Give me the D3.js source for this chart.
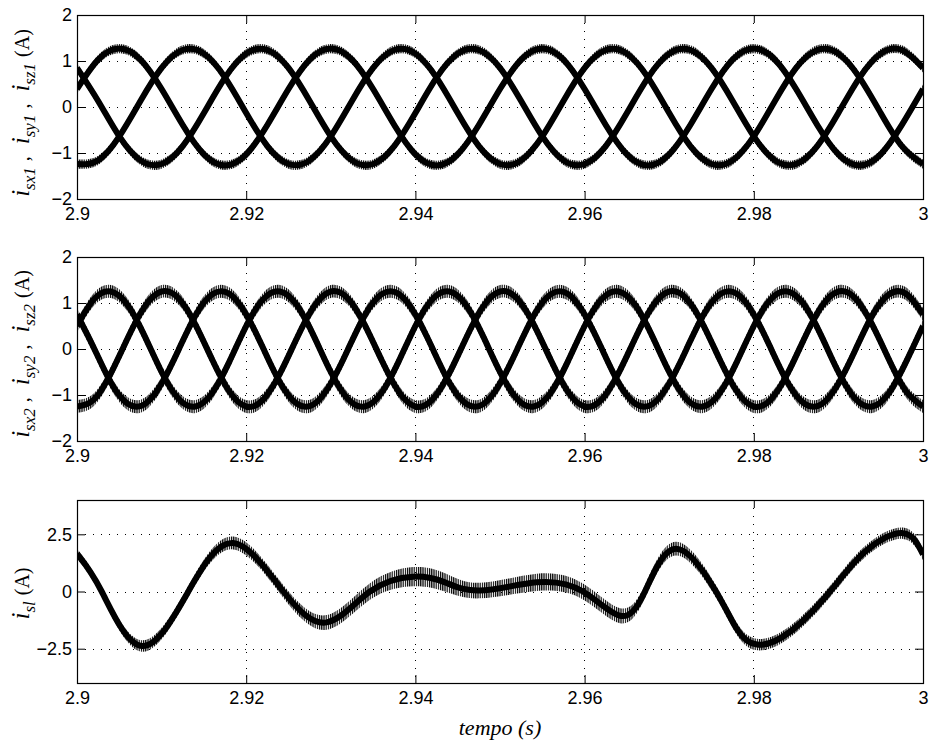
<!DOCTYPE html>
<html>
<head>
<meta charset="utf-8">
<script src="https://cdn.jsdelivr.net/npm/d3@7"></script>
<style>
  body { margin: 0; background: #fff; }
  svg { display: block; }
  .label { font-family: 'Liberation Serif', 'Times New Roman', serif; }
</style>
</head>
<body>
<script>
// time axis and ticks
var t0 = 2.9
var dt1 = 0.0025 // sample step of the first set of currents
var dt2 = 0.002 // sample step of the second set
var xTicks = [2.9, 2.92, 2.94, 2.96, 2.98, 3]
var yTicks12 = [-2, -1, 0, 1, 2]
var yTicks3 = [-2.5, 0, 2.5]

// set 1 (A), one sample every dt1
var isx1 = [
  0.39, 1.03, 1.27, 1.03, 0.39, -0.39, -1.03, -1.27, -1.03, -0.39,
  0.39, 1.03, 1.27, 1.03, 0.39, -0.39, -1.03, -1.27, -1.03, -0.39,
  0.39, 1.03, 1.27, 1.03, 0.39, -0.39, -1.03, -1.27, -1.03, -0.39,
  0.39, 1.03, 1.27, 1.03, 0.39, -0.39, -1.03, -1.27, -1.03, -0.39,
  0.39]
var isy1 = [
  -1.24, -1.16, -0.64, 0.13, 0.85, 1.24, 1.16, 0.64, -0.13, -0.85,
  -1.24, -1.16, -0.64, 0.13, 0.85, 1.24, 1.16, 0.64, -0.13, -0.85,
  -1.24, -1.16, -0.64, 0.13, 0.85, 1.24, 1.16, 0.64, -0.13, -0.85,
  -1.24, -1.16, -0.64, 0.13, 0.85, 1.24, 1.16, 0.64, -0.13, -0.85,
  -1.24]
var isz1 = [
  0.85, 0.13, -0.64, -1.16, -1.24, -0.85, -0.13, 0.64, 1.16, 1.24,
  0.85, 0.13, -0.64, -1.16, -1.24, -0.85, -0.13, 0.64, 1.16, 1.24,
  0.85, 0.13, -0.64, -1.16, -1.24, -0.85, -0.13, 0.64, 1.16, 1.24,
  0.85, 0.13, -0.64, -1.16, -1.24, -0.85, -0.13, 0.64, 1.16, 1.24,
  0.85]

// set 2 (A), one sample every dt2
var isx2 = [
  0.50, 1.08, 1.25, 0.95, 0.28, -0.50, -1.08, -1.25, -0.95, -0.28,
  0.50, 1.08, 1.25, 0.95, 0.28, -0.50, -1.08, -1.25, -0.95, -0.28,
  0.50, 1.08, 1.25, 0.95, 0.28, -0.50, -1.08, -1.25, -0.95, -0.28,
  0.50, 1.08, 1.25, 0.95, 0.28, -0.50, -1.08, -1.25, -0.95, -0.28,
  0.50, 1.08, 1.25, 0.95, 0.28, -0.50, -1.08, -1.25, -0.95, -0.28,
  0.50]
var isy2 = [
  -1.25, -1.10, -0.53, 0.24, 0.92, 1.25, 1.10, 0.53, -0.24, -0.92,
  -1.25, -1.10, -0.53, 0.24, 0.92, 1.25, 1.10, 0.53, -0.24, -0.92,
  -1.25, -1.10, -0.53, 0.24, 0.92, 1.25, 1.10, 0.53, -0.24, -0.92,
  -1.25, -1.10, -0.53, 0.24, 0.92, 1.25, 1.10, 0.53, -0.24, -0.92,
  -1.25, -1.10, -0.53, 0.24, 0.92, 1.25, 1.10, 0.53, -0.24, -0.92,
  -1.25]
var isz2 = [
  0.75, 0.02, -0.73, -1.19, -1.20, -0.75, -0.02, 0.73, 1.19, 1.20,
  0.75, 0.02, -0.73, -1.19, -1.20, -0.75, -0.02, 0.73, 1.19, 1.20,
  0.75, 0.02, -0.73, -1.19, -1.20, -0.75, -0.02, 0.73, 1.19, 1.20,
  0.75, 0.02, -0.73, -1.19, -1.20, -0.75, -0.02, 0.73, 1.19, 1.20,
  0.75, 0.02, -0.73, -1.19, -1.20, -0.75, -0.02, 0.73, 1.19, 1.20,
  0.75]

// switching ripple half band (A)
var ripple1 = 0.1
var ripple2 = 0.14

// i_sl, read at its peaks, zero crossings and a few slopes
var tsl = [2.9, 2.90292, 2.90765, 2.91316, 2.91848, 2.92439, 2.92951, 2.93463, 2.93976, 2.9435,
  2.94764, 2.95434, 2.95981, 2.96418, 2.96714, 2.9708, 2.97553, 2.978, 2.98038, 2.98428,
  2.98901, 2.99314, 2.99764, 3]
var isl = [1.65, 0, -2.38, 0, 2.12, 0, -1.35, 0, 0.65, 0.40,
  0.04, 0.40, 0, -1.06, 0, 1.87, 0, -1.64, -2.32, -1.76,
  0, 1.74, 2.55, 1.62]
var rsl = [0.22, 0.22, 0.25, 0.25, 0.28, 0.28, 0.32, 0.36, 0.42, 0.40,
  0.34, 0.38, 0.35, 0.33, 0.30, 0.30, 0.27, 0.26, 0.25, 0.25,
  0.25, 0.25, 0.25, 0.25]

function sampled (vals, dt, r) {
  return vals.map(function (v, i) { return { t: t0 + i * dt, v: v, r: r } })
}

var panels = [
  {
    top: 15, bottom: 199, domain: [-2, 2], ticks: yTicks12, subs: ['sx1', 'sy1', 'sz1'], shift: 6,
    series: [sampled(isx1, dt1, ripple1), sampled(isy1, dt1, ripple1), sampled(isz1, dt1, ripple1)]
  },
  {
    top: 257, bottom: 441, domain: [-2, 2], ticks: yTicks12, subs: ['sx2', 'sy2', 'sz2'], shift: 5,
    series: [sampled(isx2, dt2, ripple2), sampled(isy2, dt2, ripple2), sampled(isz2, dt2, ripple2)]
  },
  {
    top: 500, bottom: 683, domain: [-4, 4], ticks: yTicks3, subs: ['sl'], shift: 2,
    series: [tsl.map(function (t, i) { return { t: t, v: isl[i], r: rsl[i] } })]
  }
]

var svg = d3.select('body').append('svg')
  .attr('width', 930)
  .attr('height', 749)

var x = d3.scaleLinear().domain([2.9, 3]).range([77, 923])

function fmt (d) { return d < 0 ? '\u2212' + Math.abs(d) : String(d) }

var defs = svg.append('defs')
defs.append('pattern')
  .attr('id', 'ripple')
  .attr('patternUnits', 'userSpaceOnUse')
  .attr('width', 2.2)
  .attr('height', 10)
  .append('rect')
  .attr('width', 1.2)
  .attr('height', 10)
  .attr('fill', '#000')

panels.forEach(function (p, k) {
  var y = d3.scaleLinear().domain(p.domain).range([p.bottom, p.top])
  var g = svg.append('g')

  defs.append('clipPath').attr('id', 'clip' + k)
    .append('rect')
    .attr('x', 77).attr('y', p.top)
    .attr('width', 846).attr('height', p.bottom - p.top)

  // dotted grid
  var grid = g.append('g')
    .attr('stroke', '#000')
    .attr('stroke-width', 1)
    .attr('stroke-dasharray', '1,7')
    .attr('shape-rendering', 'crispEdges')
  grid.selectAll('.gx').data(xTicks).join('line')
    .attr('x1', function (d) { return x(d) }).attr('x2', function (d) { return x(d) })
    .attr('y1', p.top).attr('y2', p.bottom)
  grid.selectAll('.gy').data(p.ticks).join('line')
    .attr('y1', function (d) { return Math.round(y(d)) + 0.5 }).attr('y2', function (d) { return Math.round(y(d)) + 0.5 })
    .attr('x1', 77).attr('x2', 923)

  var line = d3.line()
    .x(function (d) { return x(d.t) })
    .y(function (d) { return y(d.v) })
    .curve(d3.curveNatural)
  var band = d3.area()
    .x(function (d) { return x(d.t) })
    .y0(function (d) { return y(d.v - d.r) })
    .y1(function (d) { return y(d.v + d.r) })
    .curve(d3.curveNatural)

  var plot = g.append('g').attr('clip-path', 'url(#clip' + k + ')')
  plot.selectAll('.band').data(p.series).join('path')
    .attr('d', band)
    .attr('fill', 'url(#ripple)')
  plot.selectAll('.core').data(p.series).join('path')
    .attr('d', line)
    .attr('fill', 'none')
    .attr('stroke', '#000')
    .attr('stroke-width', 6)
    .attr('stroke-linejoin', 'round')

  // axes, ticks pointing inward on all four sides
  var axes = [
    g.append('g').attr('transform', 'translate(0,' + p.bottom + ')')
      .call(d3.axisBottom(x).tickValues(xTicks).tickSize(-8).tickPadding(8).tickFormat(fmt)),
    g.append('g').attr('transform', 'translate(0,' + p.top + ')')
      .call(d3.axisTop(x).tickValues(xTicks).tickSize(-8).tickFormat('')),
    g.append('g').attr('transform', 'translate(77,0)')
      .call(d3.axisLeft(y).tickValues(p.ticks).tickSize(-8).tickPadding(5).tickFormat(fmt)),
    g.append('g').attr('transform', 'translate(923,0)')
      .call(d3.axisRight(y).tickValues(p.ticks).tickSize(-8).tickFormat(''))
  ]
  axes.forEach(function (a) {
    a.attr('font-family', "'Liberation Sans', Arial, sans-serif").attr('font-size', 18)
    a.select('.domain').remove()
  })

  g.append('rect')
    .attr('x', 77.5).attr('y', p.top + 0.5)
    .attr('width', 846).attr('height', p.bottom - p.top)
    .attr('fill', 'none')
    .attr('stroke', '#000')
    .attr('stroke-width', 1.2)

  // y label, i with subscripts
  var cy = (p.top + p.bottom) / 2 + p.shift
  var txt = svg.append('text')
    .attr('class', 'label')
    .attr('transform', 'translate(29,' + cy + ') rotate(-90)')
    .attr('text-anchor', 'middle')
  p.subs.forEach(function (s, i) {
    txt.append('tspan').attr('font-size', 25).attr('font-style', 'italic').attr('dx', i ? 12 : 0).text('i')
    txt.append('tspan').attr('font-size', 17).attr('font-style', 'italic').attr('dy', 6).text(s)
    if (i < p.subs.length - 1) {
      txt.append('tspan').attr('font-size', 20).attr('dy', -6).attr('dx', 6).text(',')
    } else {
      txt.append('tspan').attr('font-size', 20).attr('dy', -6).attr('dx', 6).text('(A)')
    }
  })
})

svg.append('text')
  .attr('class', 'label')
  .attr('x', 500)
  .attr('y', 735)
  .attr('text-anchor', 'middle')
  .attr('font-size', 22)
  .attr('font-style', 'italic')
  .text('tempo (s)')
</script>
</body>
</html>
